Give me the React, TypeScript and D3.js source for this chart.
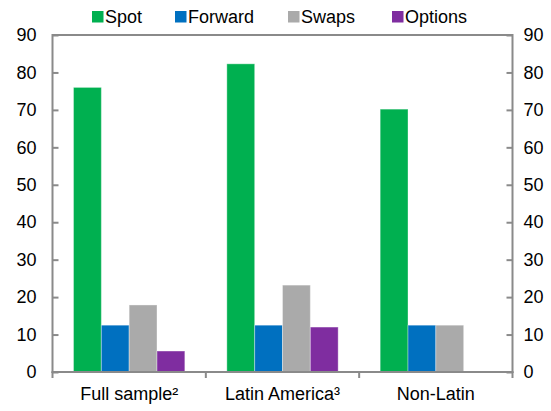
import React, { useRef, useEffect } from 'react';
import * as d3 from 'd3';

const categories = ['Full sample²', 'Latin America³', 'Non-Latin'];
const seriesNames = ['Spot', 'Forward', 'Swaps', 'Options'];
const seriesColors = ['#00b050', '#0070c0', '#aaaaaa', '#7f2da0'];
const spot = [76, 82.3, 70.2];
const forward = [12.5, 12.5, 12.5];
const swaps = [17.9, 23.2, 12.5];
const options = [5.6, 12, 0];
const yTicks = [0, 10, 20, 30, 40, 50, 60, 70, 80, 90];
const legendX = [92, 175, 288, 392];

const FONT = 'Arial, "Liberation Sans", sans-serif';
const AXIS = '#8a8a8a';

const App = () => {
  const ref = useRef<HTMLDivElement>(null);

  useEffect(() => {
    if (!ref.current) return;
    d3.select(ref.current).select('svg').remove();

    const W = 551;
    const H = 411;
    const left = 52.5, right = 512.5, top = 35, bottom = 372;
    const values = [spot, forward, swaps, options];

    const svg = d3.select(ref.current)
      .append('svg')
      .attr('width', W)
      .attr('height', H)
      .style('position', 'absolute')
      .style('left', '0px')
      .style('top', '0px')
      .style('background', '#fff');

    const x = d3.scaleBand<string>().domain(categories).range([left, right]).padding(0);
    const xs = d3.scaleBand<string>().domain(seriesNames).range([0, x.bandwidth()])
      .paddingInner(0).paddingOuter(0.755);
    const y = d3.scaleLinear().domain([0, 90]).range([bottom, top]);

    // bars
    seriesNames.forEach((s, si) => {
      svg.append('g')
        .selectAll('rect')
        .data(categories.map((c, ci) => ({ c, v: values[si][ci] })))
        .join('rect')
        .filter(d => d.v > 0)
        .attr('x', d => x(d.c)! + xs(s)!)
        .attr('y', d => y(d.v))
        .attr('width', xs.bandwidth())
        .attr('height', d => y(0) - y(d.v))
        .attr('fill', seriesColors[si])
        .attr('stroke', 'rgba(255,255,255,0.35)')
        .attr('stroke-width', 1);
    });

    // frame
    svg.append('line').attr('x1', left).attr('x2', right).attr('y1', top).attr('y2', top)
      .attr('stroke', AXIS).attr('stroke-width', 2);

    const yl = svg.append('g')
      .attr('transform', `translate(${left},0)`)
      .call(d3.axisLeft(y).tickValues(yTicks).tickSize(-6).tickSizeOuter(0).tickPadding(16));
    const yr = svg.append('g')
      .attr('transform', `translate(${right},0)`)
      .call(d3.axisRight(y).tickValues(yTicks).tickSize(-6).tickSizeOuter(0).tickPadding(11));

    [yl, yr].forEach(g => {
      g.attr('font-family', FONT).attr('font-size', 18);
      g.selectAll('path, line').attr('stroke', AXIS).attr('stroke-width', 2);
      g.select('path').attr('d', `M0,${top - 1}V${bottom + 1}`);
      g.selectAll('text').attr('fill', '#000');
    });

    // x axis
    svg.append('line').attr('x1', left - 1).attr('x2', right + 1).attr('y1', bottom).attr('y2', bottom)
      .attr('stroke', AXIS).attr('stroke-width', 2);
    const bounds = categories.map(c => x(c)!).concat([right]);
    svg.append('g').selectAll('line').data(bounds).join('line')
      .attr('x1', d => d).attr('x2', d => d)
      .attr('y1', bottom).attr('y2', bottom + 6)
      .attr('stroke', AXIS).attr('stroke-width', 2);
    svg.append('g').selectAll('text').data(categories).join('text')
      .attr('x', d => x(d)! + x.bandwidth() / 2)
      .attr('y', 400)
      .attr('text-anchor', 'middle')
      .attr('font-family', FONT)
      .attr('font-size', 18)
      .text(d => d);

    // legend
    const lg = svg.append('g').selectAll('g').data(seriesNames).join('g')
      .attr('transform', (d, i) => `translate(${legendX[i]},0)`);
    lg.append('rect').attr('x', 0).attr('y', 11).attr('width', 11.5).attr('height', 11.5)
      .attr('fill', (d, i) => seriesColors[i]);
    lg.append('text').attr('x', 13).attr('y', 23)
      .attr('font-family', FONT).attr('font-size', 18)
      .text(d => d);
  }, []);

  return <div ref={ref}></div>;
};

export default App;
